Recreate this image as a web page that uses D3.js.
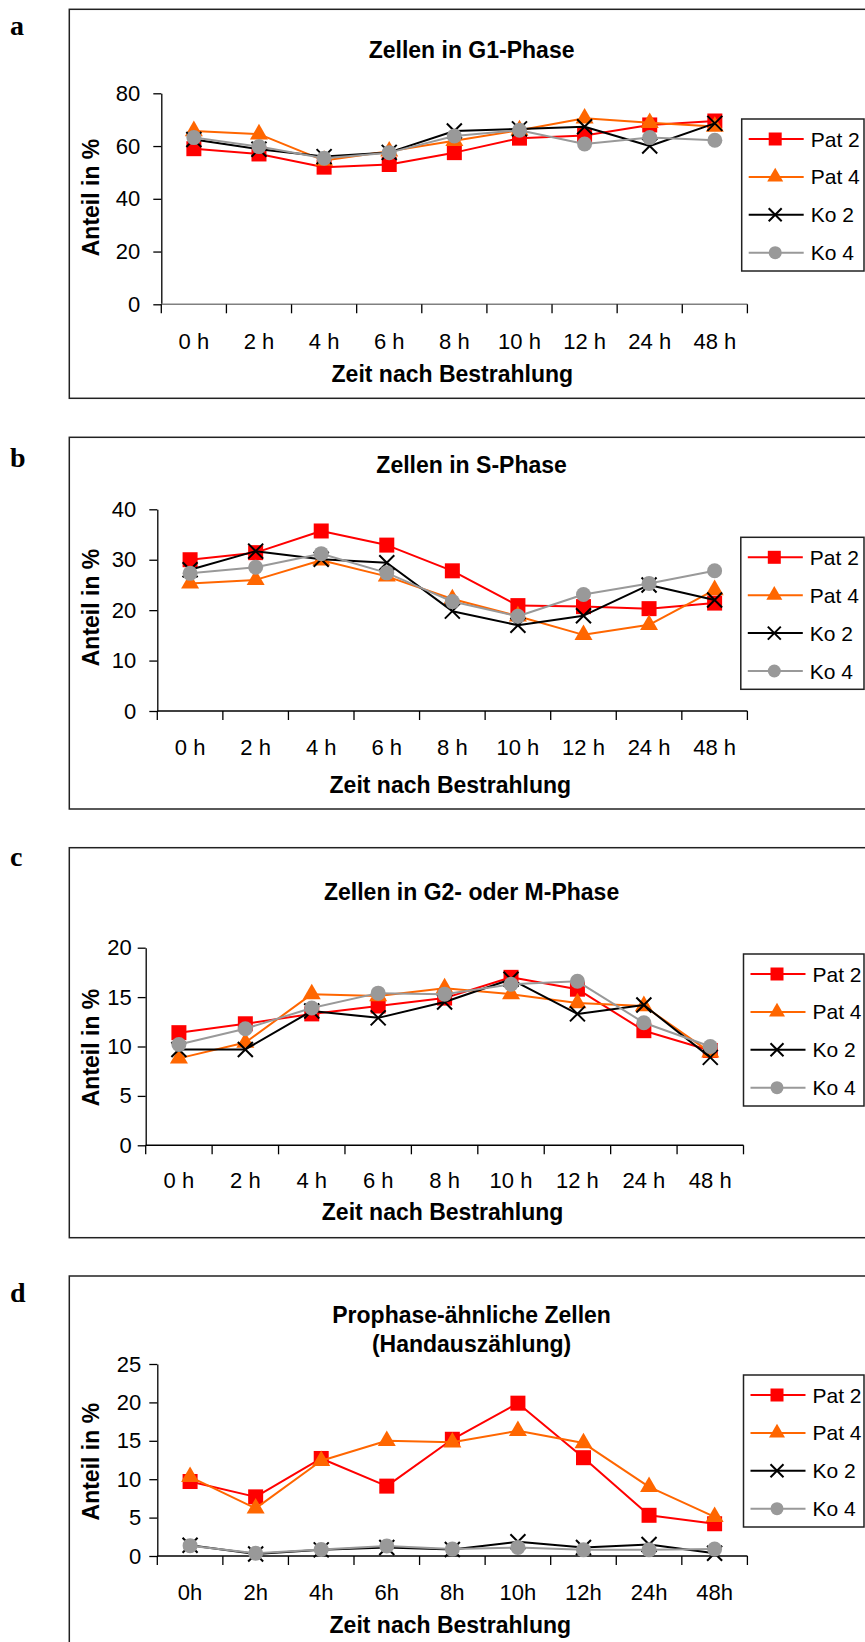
<!DOCTYPE html>
<meta charset="utf-8">
<body style="margin:0;background:#fff">
<script src="https://d3js.org/d3.v7.min.js"></script>
<script>
var width = 865,
    height = 1642;

// categories
var hoursSpaced = ["0 h", "2 h", "4 h", "6 h", "8 h", "10 h", "12 h", "24 h", "48 h"];
var hoursTight = ["0h", "2h", "4h", "6h", "8h", "10h", "12h", "24h", "48h"];
var seriesNames = ["Pat 2", "Pat 4", "Ko 2", "Ko 4"];

// a: G1
var g1Pat2 = [59, 57, 52, 53, 57.5, 63, 64, 68, 69.5];
var g1Pat4 = [65.7, 64.5, 54.5, 58, 62, 66, 70.5, 68.8, 67.4];
var g1Ko2 = [62.5, 58.8, 56, 57.6, 65.7, 66.5, 67.3, 60, 68.6];
var g1Ko4 = [63.2, 59.8, 55.4, 57.5, 63.8, 66, 60.8, 63.2, 62.2];
var g1Ticks = [0, 20, 40, 60, 80];

// b: S
var sPat2 = [30, 31.4, 35.7, 32.9, 27.8, 20.9, 20.7, 20.3, 21.4];
var sPat4 = [25.3, 26, 29.9, 26.7, 22.2, 18.8, 15.1, 17.1, 24];
var sKo2 = [28, 31.7, 30.1, 29.4, 19.8, 17, 18.9, 25, 22];
var sKo4 = [27.3, 28.5, 31.2, 27.4, 21.7, 18.8, 23.1, 25.3, 27.8];
var sTicks = [0, 10, 20, 30, 40];

// c: G2/M
var g2Pat2 = [11.4, 12.3, 13.3, 14.1, 14.9, 17, 15.8, 11.6, 9.6];
var g2Pat4 = [8.8, 10.4, 15.3, 15.1, 15.9, 15.3, 14.4, 14.1, 9.4];
var g2Ko2 = [9.7, 9.7, 13.6, 12.9, 14.5, 16.8, 13.3, 14.2, 8.9];
var g2Ko4 = [10.2, 11.8, 13.9, 15.4, 15.3, 16.3, 16.6, 12.4, 10];
var g2Ticks = [0, 5, 10, 15, 20];

// d: Prophase-like
var proPat2 = [9.7, 7.7, 12.7, 9.1, 15.2, 19.9, 12.8, 5.3, 4.2];
var proPat4 = [10.3, 6.2, 12.4, 15, 14.8, 16.3, 14.7, 9, 5.1];
var proKo2 = [1.4, 0.25, 0.8, 1.1, 0.85, 1.85, 1.1, 1.5, 0.35];
var proKo4 = [1.35, 0.35, 0.85, 1.3, 0.9, 1.1, 0.8, 0.8, 0.9];
var proTicks = [0, 5, 10, 15, 20, 25];

var colors = ["#ff0000", "#ff6600", "#000000", "#999999"];
var shapes = ["square", "triangle", "x", "circle"];

var font = "'Liberation Sans', Arial, sans-serif";

var svg = d3.select("body").append("svg")
    .attr("width", width)
    .attr("height", height)
    .style("display", "block")
    .style("background", "#fff");

var panels = [
  {letter: "a", boxTop: 9.3, boxBot: 398.3, letterY: 35, title: ["Zellen in G1-Phase"], titleY: [58],
   x0: 161.3, x1: 747.4, yTop: 93.3, yBot: 304.3, ticks: g1Ticks, cats: hoursSpaced,
   series: [g1Pat2, g1Pat4, g1Ko2, g1Ko4], legX: 741.7, legY: 119, yTitleY: 197.5,
   xLabY: 349.3, xTitleY: 382, pad: 13, baseColor: "#808080"},
  {letter: "b", boxTop: 437.3, boxBot: 809, letterY: 466.7, title: ["Zellen in S-Phase"], titleY: [473.3],
   x0: 157.3, x1: 747.4, yTop: 509.3, yBot: 711, ticks: sTicks, cats: hoursSpaced,
   series: [sPat2, sPat4, sKo2, sKo4], legX: 740.8, legY: 537.3, yTitleY: 607.5,
   xLabY: 755, xTitleY: 793.3, pad: 13, baseColor: "#000"},
  {letter: "c", boxTop: 847.7, boxBot: 1237.7, letterY: 866, title: ["Zellen in G2- oder M-Phase"], titleY: [900],
   x0: 145.7, x1: 743.5, yTop: 947.7, yBot: 1145.3, ticks: g2Ticks, cats: hoursSpaced,
   series: [g2Pat2, g2Pat4, g2Ko2, g2Ko4], legX: 743.5, legY: 954, yTitleY: 1047.5,
   xLabY: 1188.3, xTitleY: 1220, pad: 6, baseColor: "#000"},
  {letter: "d", boxTop: 1276, boxBot: 1700, letterY: 1301.7,
   title: ["Prophase-ähnliche Zellen", "(Handauszählung)"], titleY: [1322.7, 1351.7],
   x0: 157.3, x1: 747.4, yTop: 1364, yBot: 1556, ticks: proTicks, cats: hoursTight,
   series: [proPat2, proPat4, proKo2, proKo4], legX: 743.5, legY: 1375, yTitleY: 1461.7,
   xLabY: 1600, xTitleY: 1633.3, pad: 8, baseColor: "#000"}
];

function marker(g, shape, color, cx, cy, s) {
  if (shape == "x") {
    var h = s / 2;
    g.append("path")
        .attr("d", "M" + (cx - h) + "," + (cy - h) + "L" + (cx + h) + "," + (cy + h) +
                   "M" + (cx - h) + "," + (cy + h) + "L" + (cx + h) + "," + (cy - h))
        .attr("stroke", color)
        .attr("stroke-width", 2)
        .attr("fill", "none");
    return;
  }
  var sym = shape == "square" ? d3.symbolSquare : shape == "triangle" ? d3.symbolTriangle : d3.symbolCircle;
  var area = shape == "square" ? s * s : shape == "triangle" ? Math.sqrt(3) / 4 * (s + 3) * (s + 3) : Math.PI * s * s / 4;
  g.append("path")
      .attr("d", d3.symbol().type(sym).size(area)())
      .attr("transform", "translate(" + cx + "," + cy + ")")
      .attr("fill", color);
}

panels.forEach(function(p) {
  var g = svg.append("g");

  g.append("rect")
      .attr("x", 69.3).attr("y", p.boxTop)
      .attr("width", 805).attr("height", p.boxBot - p.boxTop)
      .attr("fill", "none").attr("stroke", "#222").attr("stroke-width", 1.5);

  g.append("text")
      .attr("x", 10).attr("y", p.letterY)
      .style("font", "bold 28px 'Liberation Serif', 'Times New Roman', serif")
      .text(p.letter);

  p.title.forEach(function(t, i) {
    g.append("text")
        .attr("x", 471.6).attr("y", p.titleY[i])
        .attr("text-anchor", "middle")
        .style("font", "bold 23px " + font)
        .text(t);
  });

  var x = d3.scaleBand().domain(p.cats).range([p.x0, p.x1]);
  var y = d3.scaleLinear().domain([0, p.ticks[p.ticks.length - 1]]).range([p.yBot, p.yTop]);

  var yAxis = g.append("g")
      .attr("transform", "translate(" + p.x0 + ",0)")
      .call(d3.axisLeft(y).tickValues(p.ticks).tickSize(8).tickSizeOuter(0).tickPadding(p.pad));
  yAxis.select(".domain").attr("stroke", "#000").attr("stroke-width", 1.3);
  yAxis.selectAll(".tick line").attr("stroke", "#000").attr("stroke-width", 1.3);
  yAxis.selectAll("text").style("font", "22px " + font).attr("fill", "#000");

  // category axis, ticks between categories
  var bounds = p.cats.map(function(c) { return x(c); }).concat([p.x1]);
  g.append("line")
      .attr("x1", p.x0).attr("x2", p.x1)
      .attr("y1", y(0)).attr("y2", y(0))
      .attr("stroke", p.baseColor).attr("stroke-width", 1.5);
  g.selectAll(".xt").data(bounds).enter().append("line")
      .attr("x1", function(d) { return d; }).attr("x2", function(d) { return d; })
      .attr("y1", y(0)).attr("y2", y(0) + 9)
      .attr("stroke", "#000").attr("stroke-width", 1.3);
  g.selectAll(".xl").data(p.cats).enter().append("text")
      .attr("x", function(d) { return x(d) + x.bandwidth() / 2; })
      .attr("y", p.xLabY)
      .attr("text-anchor", "middle")
      .style("font", "22px " + font)
      .text(function(d) { return d; });

  g.append("text")
      .attr("x", (p.x0 + p.x1) / 2 - 2).attr("y", p.xTitleY)
      .attr("text-anchor", "middle")
      .style("font", "bold 23px " + font)
      .text("Zeit nach Bestrahlung");

  g.append("text")
      .attr("transform", "translate(99," + p.yTitleY + ")rotate(-90)")
      .attr("text-anchor", "middle")
      .style("font", "bold 23px " + font)
      .text("Anteil in %");

  var line = d3.line()
      .x(function(d, i) { return x(p.cats[i]) + x.bandwidth() / 2; })
      .y(function(d) { return y(d); });

  p.series.forEach(function(vals, si) {
    var sg = g.append("g");
    sg.append("path")
        .attr("d", line(vals))
        .attr("fill", "none")
        .attr("stroke", colors[si])
        .attr("stroke-width", 2)
        .attr("stroke-linejoin", "round");
    vals.forEach(function(v, i) {
      marker(sg, shapes[si], colors[si], x(p.cats[i]) + x.bandwidth() / 2, y(v), 15);
    });
  });

  // legend
  var lg = g.append("g").attr("transform", "translate(" + p.legX + "," + p.legY + ")");
  lg.append("rect")
      .attr("width", 864 - p.legX).attr("height", 152)
      .attr("fill", "#fff").attr("stroke", "#222").attr("stroke-width", 1.5);
  seriesNames.forEach(function(name, si) {
    var ly = 20 + si * 37.9;
    lg.append("line")
        .attr("x1", 7).attr("x2", 62).attr("y1", ly).attr("y2", ly)
        .attr("stroke", colors[si]).attr("stroke-width", 2);
    marker(lg, shapes[si], colors[si], 33.5, ly, 13);
    lg.append("text")
        .attr("x", 69).attr("y", ly).attr("dy", "0.36em")
        .style("font", "21px " + font)
        .text(name);
  });
});
</script>
